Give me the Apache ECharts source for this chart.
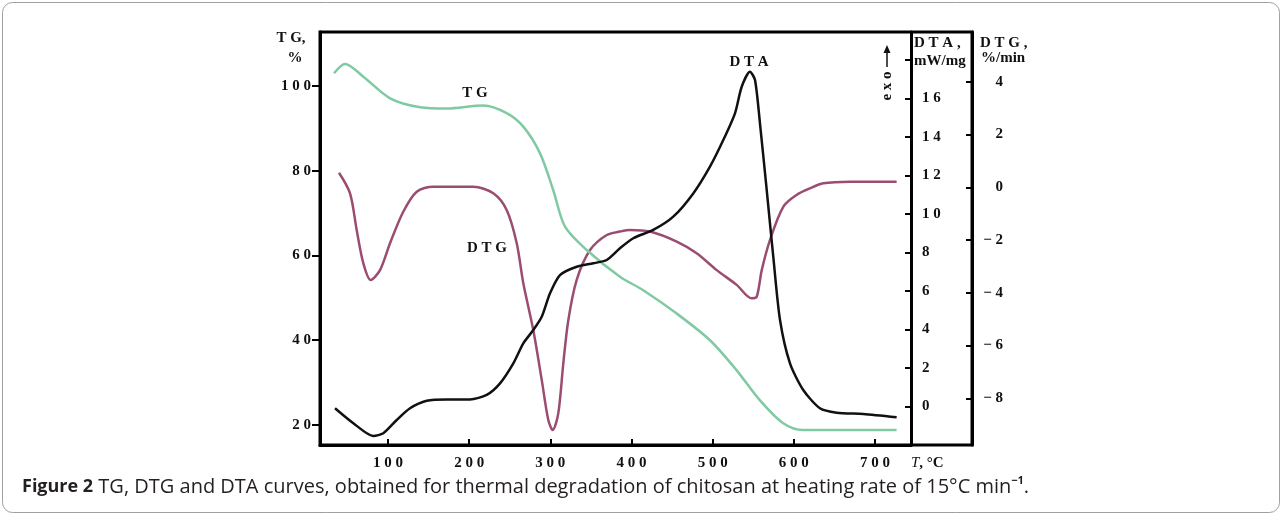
<!DOCTYPE html>
<html>
<head>
<meta charset="utf-8">
<script src="https://cdn.jsdelivr.net/npm/echarts/dist/echarts.min.js"></script>
<style>
  html, body { margin: 0; padding: 0; background: #fff; }
  #chart { width: 1282px; height: 515px; }
</style>
</head>
<body>
<div id="chart"></div>
<script>
// 温度刻度 (°C)
var xTicks = [100, 200, 300, 400, 500, 600, 700];
var tgTicks = [20, 40, 60, 80, 100];
var dtaTicks = [0, 2, 4, 6, 8, 10, 12, 14, 16, 18];
var dtaLabels = [0, 2, 4, 6, 8, 10, 12, 14, 16];
var dtgTicks = [-8, -6, -4, -2, 0, 2, 4];

// TG, %
var tgTemp = [33.5, 47, 69.6, 102.5, 139.4, 172.3, 217.4, 246.2, 266.7, 287.3, 303.6, 318.1, 344.8, 385.8, 414.5, 455.7, 496.7, 529.6, 558.3, 587, 611.6, 726.7];
var tgVal = [103.0, 105.2, 102.2, 97.1, 95.0, 94.7, 95.4, 93.6, 90.4, 84.1, 75.4, 66.8, 61.3, 55.0, 51.8, 46.3, 40.0, 32.9, 25.8, 20.4, 18.8, 18.8];

// DTG, %/min
var dtgTemp = [39.6, 53.2, 61.4, 69.6, 78.7, 90.1, 102.5, 118.8, 135.4, 155.8, 205.1, 229.7, 246.2, 258.6, 266.7, 279.0, 289.4, 297.5, 302.9, 309.8, 316.0, 322.2, 332.5, 348.9, 369.5, 385.8, 398.1, 422.8, 455.7, 480.3, 505.0, 529.6, 548.1, 554.3, 560.5, 570.6, 587.0, 603.5, 619.9, 636.3, 669.2, 726.7];
var dtgVal = [0.55, -0.23, -1.62, -2.88, -3.51, -3.14, -2.12, -0.93, -0.17, 0.02, 0.02, -0.23, -0.86, -2.12, -3.64, -5.41, -7.30, -8.82, -9.20, -8.57, -6.67, -5.03, -3.51, -2.38, -1.81, -1.68, -1.62, -1.68, -2.06, -2.50, -3.14, -3.70, -4.21, -4.15, -3.14, -2.00, -0.74, -0.29, -0.04, 0.15, 0.21, 0.21];

// DTA, mW/mg
var dtaTemp = [34.7, 57.3, 81.9, 94.2, 110.7, 127.1, 147.7, 172.3, 201.0, 221.6, 238.0, 254.4, 266.7, 279.0, 289.4, 299.6, 311.9, 332.5, 352.9, 369.4, 385.8, 402.2, 426.8, 451.5, 476.1, 496.7, 513.1, 527.5, 535.8, 546.0, 552.2, 558.3, 566.6, 574.7, 583.0, 595.3, 611.6, 632.2, 652.8, 685.6, 726.7];
var dtaVal = [-0.10, -0.88, -1.54, -1.40, -0.71, -0.10, 0.29, 0.36, 0.36, 0.59, 1.19, 2.23, 3.27, 3.96, 4.65, 5.87, 6.82, 7.25, 7.43, 7.60, 8.21, 8.73, 9.16, 9.85, 11.06, 12.45, 13.83, 15.22, 16.60, 17.38, 16.95, 14.70, 11.24, 7.77, 4.48, 2.23, 0.85, -0.10, -0.33, -0.40, -0.57];

function pairs(xs, ys) {
    return xs.map(function (x, i) { return [x, ys[i]]; });
}
// 数字之间加空格，负号换成长横
function spaced(v) {
    return String(v).replace('-', '\u2212').split('').join(' ');
}

var serif = 'Liberation Serif';
var lbl = { fontFamily: serif, fontWeight: 'bold', fontSize: 15, color: '#111' };

var myChart = echarts.init(document.getElementById('chart'), null, { renderer: 'canvas' });

var option = {
    animation: false,
    backgroundColor: '#fff',
    grid: {
        left: 320, top: 32, width: 591, height: 413,
        containLabel: false, outerBoundsMode: 'none'
    },
    xAxis: {
        type: 'value', min: 16.2, max: 744.4,
        axisLine: { onZero: false, lineStyle: { color: '#000', width: 3 } },
        axisTick: { inside: true, length: 6, lineStyle: { color: '#000', width: 2 }, customValues: xTicks },
        axisLabel: Object.assign({ margin: 11, customValues: xTicks, formatter: spaced }, lbl),
        splitLine: { show: false }
    },
    yAxis: [
        {   // TG
            type: 'value', position: 'left', min: 15.28, max: 112.74,
            axisLine: { show: true, onZero: false, lineStyle: { color: '#000', width: 3 } },
            axisTick: { show: true, length: 8, lineStyle: { color: '#000', width: 2 }, customValues: tgTicks },
            axisLabel: Object.assign({ margin: 9, customValues: tgTicks, formatter: spaced }, lbl),
            splitLine: { show: false }
        },
        {   // DTA
            type: 'value', position: 'right', min: -2.01, max: 19.444,
            axisLine: { show: true, onZero: false, lineStyle: { color: '#000', width: 3 } },
            axisTick: { show: true, inside: true, length: 6, lineStyle: { color: '#000', width: 2 }, customValues: dtaTicks },
            axisLabel: Object.assign({ margin: 11, customValues: dtaLabels, formatter: spaced }, lbl),
            splitLine: { show: false }
        },
        {   // DTG
            type: 'value', position: 'right', offset: 61, min: -9.767, max: 5.883,
            axisLine: { show: true, onZero: false, lineStyle: { color: '#000', width: 3 } },
            axisTick: { show: true, inside: true, length: 6, lineStyle: { color: '#000', width: 2 }, customValues: dtgTicks },
            axisLabel: Object.assign({ margin: 31, align: 'right', customValues: dtgTicks, formatter: spaced }, lbl),
            splitLine: { show: false }
        }
    ],
    series: [
        {
            name: 'DTG', type: 'line', yAxisIndex: 2, data: pairs(dtgTemp, dtgVal),
            smooth: 0.3, symbol: 'none',
            lineStyle: { color: '#9a4d71', width: 2.5 }
        },
        {
            name: 'TG', type: 'line', yAxisIndex: 0, data: pairs(tgTemp, tgVal),
            smooth: 0.3, symbol: 'none',
            lineStyle: { color: '#80caa3', width: 2.5 }
        },
        {
            name: 'DTA', type: 'line', yAxisIndex: 1, data: pairs(dtaTemp, dtaVal),
            smooth: 0.25, symbol: 'none',
            lineStyle: { color: '#111', width: 2.5 }
        }
    ],
    graphic: [
        // 外框
        { type: 'rect', shape: { x: 2.5, y: 2.5, width: 1277, height: 510, r: 10 }, style: { fill: 'none', stroke: '#a0a0a0', lineWidth: 1 }, silent: true },
        { type: 'rect', shape: { x: 320, y: 32, width: 652, height: 413 }, style: { fill: 'none', stroke: '#000', lineWidth: 3 }, silent: true, z: 10 },
        // 坐标轴标题
        { type: 'text', style: { text: 'T G,', x: 291, y: 38, font: 'bold 15px "Liberation Serif"', fill: '#111', textAlign: 'center', textVerticalAlign: 'middle' } },
        { type: 'text', style: { text: '%', x: 295, y: 58, font: 'bold 15px "Liberation Serif"', fill: '#111', textAlign: 'center', textVerticalAlign: 'middle' } },
        { type: 'text', style: { text: 'D T A ,', x: 914, y: 43, font: 'bold 15px "Liberation Serif"', fill: '#111', textAlign: 'left', textVerticalAlign: 'middle' } },
        { type: 'text', style: { text: 'mW/mg', x: 914, y: 61, font: 'bold 15px "Liberation Serif"', fill: '#111', textAlign: 'left', textVerticalAlign: 'middle' } },
        { type: 'text', style: { text: 'D T G ,', x: 980, y: 43, font: 'bold 15px "Liberation Serif"', fill: '#111', textAlign: 'left', textVerticalAlign: 'middle' } },
        { type: 'text', style: { text: '%/min', x: 981, y: 58, font: 'bold 15px "Liberation Serif"', fill: '#111', textAlign: 'left', textVerticalAlign: 'middle' } },
        {
            type: 'text', style: {
                text: '{i|T}{n|, °C}', x: 911, y: 463, textAlign: 'left', textVerticalAlign: 'middle',
                rich: {
                    i: { fontFamily: serif, fontStyle: 'italic', fontSize: 15, fill: '#111' },
                    n: { fontFamily: serif, fontWeight: 'bold', fontSize: 15, fill: '#111' }
                }
            }
        },
        // 曲线名称
        { type: 'text', style: { text: 'T G', x: 475, y: 93, font: 'bold 15px "Liberation Serif"', fill: '#111', textAlign: 'center', textVerticalAlign: 'middle' } },
        { type: 'text', style: { text: 'D T G', x: 487, y: 248, font: 'bold 15px "Liberation Serif"', fill: '#111', textAlign: 'center', textVerticalAlign: 'middle' } },
        { type: 'text', style: { text: 'D T A', x: 749, y: 62, font: 'bold 15px "Liberation Serif"', fill: '#111', textAlign: 'center', textVerticalAlign: 'middle' } },
        // exo 箭头
        { type: 'text', x: 887, y: 86, rotation: Math.PI / 2, style: { text: 'e x o', x: 0, y: 0, font: 'bold 15px "Liberation Serif"', fill: '#111', textAlign: 'center', textVerticalAlign: 'middle' } },
        { type: 'line', shape: { x1: 887, y1: 67, x2: 887, y2: 52 }, style: { stroke: '#111', lineWidth: 1.5 } },
        { type: 'polygon', shape: { points: [[887, 45], [883.5, 53], [890.5, 53]] }, style: { fill: '#111' } },
        // 图注
        {
            type: 'text', style: {
                text: '{b|Figure 2}{n| TG, DTG and DTA curves, obtained for thermal degradation of chitosan at heating rate of 15°C min}{s|\u22121}{n|.}',
                x: 22, y: 487, textAlign: 'left', textVerticalAlign: 'middle',
                rich: {
                    b: { fontFamily: 'Open Sans', fontWeight: 'bold', fontSize: 18, fill: '#231f20', lineHeight: 24 },
                    n: { fontFamily: 'Open Sans', fontSize: 20, fill: '#231f20', lineHeight: 24 },
                    s: { fontFamily: 'Open Sans', fontWeight: 'bold', fontSize: 11, fill: '#231f20', lineHeight: 24, verticalAlign: 'top' }
                }
            }
        }
    ]
};
myChart.setOption(option);
</script>
</body>
</html>
